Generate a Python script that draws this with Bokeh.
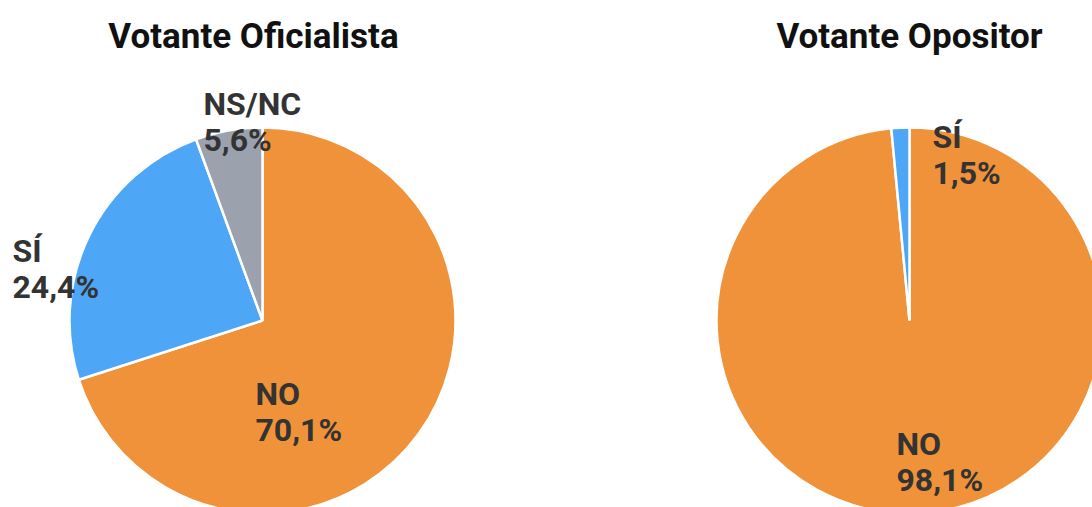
import numpy as np
from bokeh.plotting import figure
from bokeh.models import Range1d, ColumnDataSource
from bokeh.core.properties import value
from bokeh.embed import file_html
from bokeh.resources import INLINE

# ---- data ----
titles = ["Votante Oficialista", "Votante Opositor"]
categories_of = ["NO", "SÍ", "NS/NC"]
values_of = [70.1, 24.4, 5.6]
categories_op = ["NO", "SÍ"]
values_op = [98.1, 1.5]

# ---- style / layout ----
colors = {"NO": "#EF9239", "SÍ": "#4EA7F6", "NS/NC": "#9BA2AE"}
W, H = 1092, 507
centers = [(262, 320), (909, 320)]       # screen px
title_pos = [(253, 36), (909, 36)]
radius = 193
label_pos = [
    {"NO": (255, 393), "SÍ": (12, 250), "NS/NC": (203, 103)},
    {"NO": (896, 443), "SÍ": (932, 136)},
]
line_gap = 36

p = figure(width=W, height=H, output_backend="svg", toolbar_location=None,
           x_range=Range1d(0, W), y_range=Range1d(-H, 0),
           x_axis_location=None, y_axis_location=None, min_border=0,
           outline_line_color=None)
p.grid.visible = False
p.background_fill_color = "white"
p.border_fill_color = "white"

def fmt(v):
    return f"{v:.1f}".replace(".", ",") + "%"

for i, (cats, vals) in enumerate([(categories_of, values_of), (categories_op, values_op)]):
    vals = np.array(vals, dtype=float)
    frac = vals / vals.sum()
    cum = np.concatenate([[0], np.cumsum(frac)])
    start = np.pi / 2 - 2 * np.pi * cum[:-1]
    end = np.pi / 2 - 2 * np.pi * cum[1:]
    cx, cy = centers[i]
    src = ColumnDataSource(dict(start=start, end=end,
                                color=[colors[c] for c in cats]))
    p.wedge(x=cx, y=-cy, radius=radius, start_angle="start", end_angle="end",
            direction="clock", fill_color="color", line_color="white",
            line_width=2.5, source=src)
    # labels
    lx, ly, lt = [], [], []
    for c, v in zip(cats, vals):
        x0, y0 = label_pos[i][c]
        lx += [x0, x0]
        ly += [-y0, -(y0 + line_gap)]
        lt += [c, fmt(v)]
    p.text(x=lx, y=ly, text=lt, text_font=value("Roboto"), text_font_style="bold",
           text_font_size="32px", text_color="#333333", text_align="left",
           text_baseline="alphabetic")
    tx, ty = title_pos[i]
    p.text(x=[tx], y=[-ty], text=[titles[i]], text_font=value("Roboto"),
           text_font_style="bold", text_font_size="35px", text_color="#111111",
           text_align="center", text_baseline="alphabetic")

open("out.html", "w").write(file_html(p, INLINE))
